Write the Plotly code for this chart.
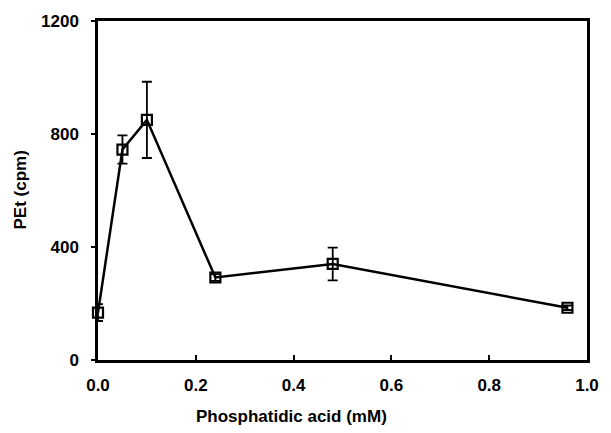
import plotly.graph_objects as go

conc = [0.0, 0.05, 0.1, 0.24, 0.48, 0.96]
pet = [168, 745, 850, 292, 340, 185]
err = [30, 50, 135, 12, 58, 8]

x_ticks = [0, 0.2, 0.4, 0.6, 0.8, 1.0]
x_labels = ["0.0", "0.2", "0.4", "0.6", "0.8", "1.0"]
y_ticks = [0, 400, 800, 1200]
y_labels = ["0", "400", "800", "1200"]

font = dict(family="Liberation Sans, Arial, sans-serif", size=17, color="black")

fig = go.Figure()
fig.add_trace(go.Scatter(
    x=conc, y=pet, mode="lines+markers",
    line=dict(color="black", width=2.5),
    marker=dict(symbol="square-open", size=10, color="black", line=dict(width=2.2)),
    error_y=dict(type="data", array=err, visible=True, color="black", thickness=1.8, width=5),
    cliponaxis=False,
))

fig.update_layout(
    width=611, height=433,
    margin=dict(l=98, r=13, t=20, b=73),
    paper_bgcolor="white", plot_bgcolor="white",
    showlegend=False,
    font=font,
    annotations=[
        dict(text="<b>Phosphatidic acid (mM)</b>", xref="paper", yref="paper",
             x=0.396, y=0, yshift=-56, xanchor="center", yanchor="middle",
             showarrow=False, font=dict(size=17)),
        dict(text="<b>PEt (cpm)</b>", xref="paper", yref="paper",
             x=0, y=0.5, xshift=-78, xanchor="center", yanchor="middle",
             textangle=-90, showarrow=False, font=dict(size=17)),
    ],
)
fig.update_xaxes(
    range=[0, 1.0], tickvals=x_ticks,
    ticktext=["<b>%s</b>" % t for t in x_labels],
    ticks="inside", ticklen=5, tickwidth=1.5, tickcolor="black",
    ticklabelstandoff=8,
    showline=True, linecolor="black", linewidth=2.5, mirror=True,
    showgrid=False, zeroline=False,
)
fig.update_yaxes(
    range=[0, 1200], tickvals=y_ticks,
    ticktext=["<b>%s</b>" % t for t in y_labels],
    ticks="outside", ticklen=4, tickwidth=1.5, tickcolor="black",
    ticklabelstandoff=9,
    showline=True, linecolor="black", linewidth=2.5, mirror=True,
    showgrid=False, zeroline=False,
)

fig.write_html("out.html")
